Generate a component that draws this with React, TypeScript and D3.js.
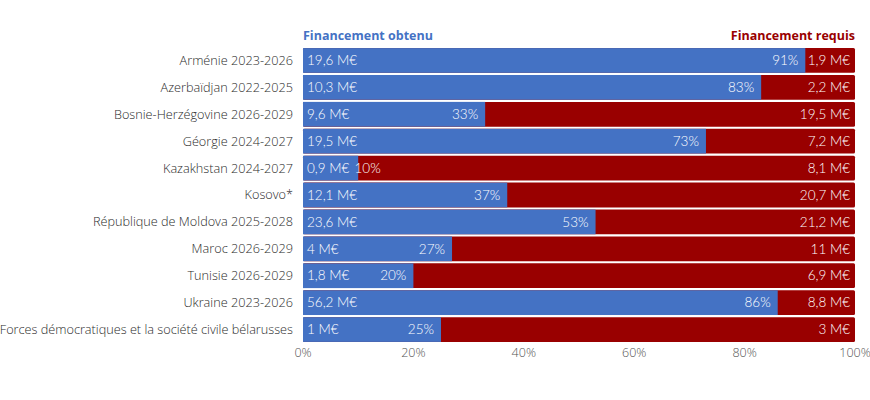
import { useEffect, useRef } from "react";
import * as d3 from "d3";

const categories = [
  "Arménie 2023-2026",
  "Azerbaïdjan 2022-2025",
  "Bosnie-Herzégovine 2026-2029",
  "Géorgie 2024-2027",
  "Kazakhstan 2024-2027",
  "Kosovo*",
  "République de Moldova 2025-2028",
  "Maroc 2026-2029",
  "Tunisie 2026-2029",
  "Ukraine 2023-2026",
  "Forces démocratiques et la société civile bélarusses",
];
const obtenu = ["19,6 M€", "10,3 M€", "9,6 M€", "19,5 M€", "0,9 M€", "12,1 M€", "23,6 M€", "4 M€", "1,8 M€", "56,2 M€", "1 M€"];
const requis = ["1,9 M€", "2,2 M€", "19,5 M€", "7,2 M€", "8,1 M€", "20,7 M€", "21,2 M€", "11 M€", "6,9 M€", "8,8 M€", "3 M€"];
const pourcentage = [91, 83, 33, 73, 10, 37, 53, 27, 20, 86, 25];
const ticks = [0, 20, 40, 60, 80, 100];

const BLEU = "#4472C4";
const ROUGE = "#990000";
const W = 870;
const H = 400;

export default function App() {
  const svgRef = useRef<SVGSVGElement>(null);

  useEffect(() => {
    if (!svgRef.current) return;
    const svg = d3.select(svgRef.current);
    svg.selectAll("*").remove();

    const margin = { top: 48, right: 15, bottom: 58, left: 303 };
    const x = d3.scaleLinear().domain([0, 100]).range([margin.left, W - margin.right]);
    const y = d3
      .scaleBand()
      .domain(categories)
      .range([margin.top - 1, H - margin.bottom + 1])
      .paddingInner(0.08)
      .paddingOuter(0.04);

    const barFont = "Lato, 'Noto Sans', sans-serif";

    // En-têtes
    svg.append("text")
      .attr("x", x(0))
      .attr("y", 40)
      .attr("fill", BLEU)
      .attr("font-family", "'Open Sans', sans-serif")
      .attr("font-weight", 700)
      .attr("font-size", 12.5)
      .text("Financement obtenu");
    svg.append("text")
      .attr("x", x(100))
      .attr("y", 40)
      .attr("text-anchor", "end")
      .attr("fill", ROUGE)
      .attr("font-family", "'Open Sans', sans-serif")
      .attr("font-weight", 700)
      .attr("font-size", 12.5)
      .text("Financement requis");

    const rows = svg
      .append("g")
      .selectAll("g")
      .data(categories)
      .enter()
      .append("g")
      .attr("transform", (d) => `translate(0,${y(d)})`);

    const bh = y.bandwidth();

    rows.append("rect")
      .attr("x", x(0))
      .attr("width", x(100) - x(0))
      .attr("height", bh)
      .attr("rx", 1.5)
      .attr("fill", ROUGE);

    rows.append("rect")
      .attr("x", x(0))
      .attr("width", (_, i) => x(pourcentage[i]) - x(0))
      .attr("height", bh)
      .attr("fill", BLEU);

    rows.append("text")
      .attr("x", x(0) - 10)
      .attr("y", bh / 2)
      .attr("dy", "0.35em")
      .attr("text-anchor", "end")
      .attr("fill", "#2b2b2b")
      .attr("font-family", "'Open Sans', sans-serif")
      .attr("font-weight", 300)
      .attr("font-size", 12.7)
      .text((d) => d);

    const valeurs = rows.append("text")
      .attr("x", x(0) + 4)
      .attr("y", bh / 2)
      .attr("dy", "0.35em")
      .attr("fill", "#fff")
      .attr("font-family", barFont)
      .attr("font-weight", 300)
      .attr("font-size", 13.5)
      .text((_, i) => obtenu[i]);

    const finValeurs: number[] = [];
    valeurs.each(function () {
      const b = (this as SVGTextElement).getBBox();
      finValeurs.push(b.x + b.width);
    });

    rows.append("text")
      .attr("y", bh / 2)
      .attr("dy", "0.35em")
      .attr("fill", "#fff")
      .attr("font-family", barFont)
      .attr("font-weight", 300)
      .attr("font-size", 13.5)
      .text((_, i) => `${pourcentage[i]}%`)
      .each(function (_, i) {
        const t = d3.select(this);
        const w = (this as SVGTextElement).getComputedTextLength();
        const fin = x(pourcentage[i]) - 7;
        if (fin - w < finValeurs[i] + 4) {
          t.attr("x", finValeurs[i] + 5).attr("text-anchor", "start");
        } else {
          t.attr("x", fin).attr("text-anchor", "end");
        }
      });

    rows.append("text")
      .attr("x", x(100) - 5)
      .attr("y", bh / 2)
      .attr("dy", "0.35em")
      .attr("text-anchor", "end")
      .attr("fill", "#fff")
      .attr("font-family", barFont)
      .attr("font-weight", 300)
      .attr("font-size", 13.5)
      .text((_, i) => requis[i]);

    // Axe
    svg.append("g")
      .selectAll("text")
      .data(ticks)
      .enter()
      .append("text")
      .attr("x", (d) => x(d))
      .attr("y", 357)
      .attr("text-anchor", "middle")
      .attr("fill", "#555")
      .attr("font-family", "'Open Sans', sans-serif")
      .attr("font-weight", 300)
      .attr("font-size", 12.5)
      .text((d) => `${d}%`);
  }, []);

  return (
    <svg
      ref={svgRef}
      width={W}
      height={H}
      viewBox={`0 0 ${W} ${H}`}
      style={{ position: "absolute", left: 0, top: 0, background: "#fff" }}
    />
  );
}
